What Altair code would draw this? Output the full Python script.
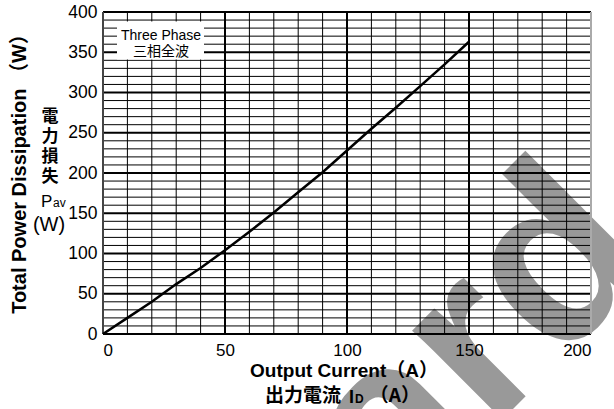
import altair as alt
import pandas as pd

# ---- data ----
current = [0, 10, 20, 30, 40, 50, 60, 70, 80, 90, 100, 110, 120, 130, 140, 150]
power = [0, 20, 40, 62, 82, 104, 127, 151, 176, 201, 228, 255, 281, 308, 335, 363]

x_ticks = [0, 50, 100, 150, 200]
y_ticks = [0, 50, 100, 150, 200, 250, 300, 350, 400]
x_minor = [v for v in range(10, 200, 10) if v % 50 != 0]
x_major = [50, 100, 150]
y_minor = [v for v in range(10, 400, 10) if v % 50 != 0]
y_major = [50, 100, 150, 200, 250, 300, 350]
jp_label = ["電", "力", "損", "失"]

W, H = 488, 322
FONT = "Liberation Sans, Arial, Noto Sans CJK JP"
CJK = "Noto Sans CJK JP"

xs = alt.Scale(domain=[0, 200], nice=False)
ys = alt.Scale(domain=[0, 400], nice=False)
xax = alt.Axis(values=x_ticks, title=None, grid=False, ticks=False, domain=False, zindex=2,
               labelFontSize=17, labelFont=FONT, labelColor="black", labelPadding=8)
yax = alt.Axis(values=y_ticks, title=None, grid=False, ticks=False, domain=False, zindex=2,
               labelFontSize=17.5, labelFont=FONT, labelColor="black", labelPadding=6)

curve_df = pd.DataFrame({"I": current, "P": power})
one = pd.DataFrame({"a": [0]})


def txt(text, x, y, **kw):
    base = dict(color="black", align="center", baseline="middle")
    base.update(kw)
    return alt.Chart(one).mark_text(text=text, **base).encode(x=alt.value(x), y=alt.value(y))


# watermark (gray rotated letters)
watermark = txt("ard", 293, 514, font="Liberation Sans", fontSize=240, fontWeight="bold",
                color="#999999", angle=315, align="left", baseline="alphabetic")


def vrules(vals, width, color="black"):
    return alt.Chart(pd.DataFrame({"v": vals})).mark_rule(color=color, strokeWidth=width).encode(
        x=alt.X("v:Q", scale=xs, axis=xax))


def hrules(vals, width, color="black"):
    return alt.Chart(pd.DataFrame({"v": vals})).mark_rule(color=color, strokeWidth=width).encode(
        y=alt.Y("v:Q", scale=ys, axis=yax))


vminor = vrules(x_minor, 1)
vmajor = vrules(x_major, 2)
hminor = hrules(y_minor, 1)
hmajor = hrules(y_major, 2)
top_b = hrules([400], 2)
bot_b = hrules([0], 2)
left_b = vrules([0], 2, "#444444")
right_b = vrules([200], 2, "#aaaaaa")

# legend box
box = alt.Chart(one).mark_rect(color="white").encode(
    x=alt.value(14), x2=alt.value(101), y=alt.value(9.5), y2=alt.value(47.5))
leg1 = txt("Three Phase", 58, 24, font=FONT, fontSize=14)
leg2 = txt("三相全波", 58, 40, font=CJK, fontSize=14)

curve = alt.Chart(curve_df).mark_line(color="black", strokeWidth=2.5).encode(
    x=alt.X("I:Q", scale=xs, axis=xax),
    y=alt.Y("P:Q", scale=ys, axis=yax),
)

# titles
ytitle = txt("Total Power Dissipation （W）", -83, 157, font=FONT, fontSize=20,
             fontWeight="bold", angle=270)
jp = txt(jp_label, -53, 105, font=CJK, fontSize=17, fontWeight="bold", lineHeight=20)
p_lab = txt("P", -62, 195, font=FONT, fontSize=17, align="left", baseline="alphabetic")
av_lab = txt("av", -50, 195, font=FONT, fontSize=12, align="left", baseline="alphabetic")
w_lab = txt("(W)", -54, 213, font=FONT, fontSize=20)

xt1 = txt("Output Current（A）", 241, 359, font=FONT, fontSize=19, fontWeight="bold")
xt2a = txt("出力電流", 162, 384, font=CJK, fontSize=19, fontWeight="bold", align="left")
xt2b = txt("I", 246, 391, font=FONT, fontSize=18, fontWeight="bold", align="left",
           baseline="alphabetic")
xt2c = txt("D", 252, 391, font=FONT, fontSize=12, fontWeight="bold", align="left",
           baseline="alphabetic")
xt2d = txt("（A）", 317, 384, font=CJK, fontSize=19, fontWeight="bold", align="right")

chart = alt.layer(
    watermark, vminor, vmajor, hminor, hmajor, top_b, bot_b, left_b, right_b,
    box, leg1, leg2, curve, ytitle, jp, p_lab, av_lab, w_lab,
    xt1, xt2a, xt2b, xt2c, xt2d
).properties(
    width=W, height=H,
    padding={"left": 103, "top": 12, "right": 23, "bottom": 75},
    autosize=alt.AutoSizeParams(type="none"),
    background="white",
).configure_view(stroke=None)

chart.save("out.html", embed_options={"renderer": "svg", "actions": False})
